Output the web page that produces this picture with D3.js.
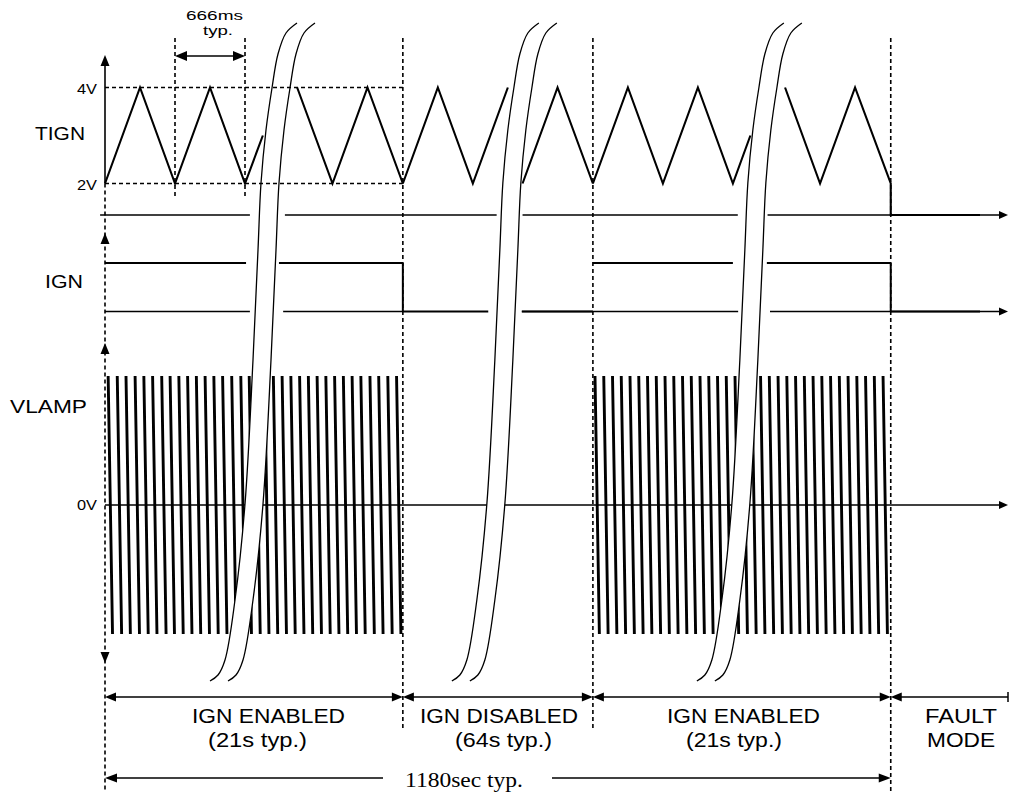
<!DOCTYPE html>
<html><head><meta charset="utf-8">
<script src="https://cdn.jsdelivr.net/npm/d3@7"></script>
<style>html,body{margin:0;padding:0;background:#fff;} svg{display:block;}</style>
</head><body><svg id="c" width="1010" height="792"></svg>
<script>
// ---- DATA (time unit = half period of TIGN ramp, 333 ms) ----
const sectionBounds = [0, 8.51, 13.94, 22.45];
const sectionEnd = 25.8;
const sectionLabels = ["IGN ENABLED", "IGN DISABLED", "IGN ENABLED", "FAULT"];
const sectionSubLabels = ["(21s typ.)", "(64s typ.)", "(21s typ.)", "MODE"];
const tignLevels = [4, 2];
const tignLevelLabels = ["4V", "2V"];
const tignFloor = 1.344;
const periodMarks = [2, 4];          // the 666 ms typ. period markers
const periodLabel = ["666ms", "typ."];
const totalLabel = "1180sec typ.";
const tignSegments = [
  [[0,2],[1,4],[2,2],[3,4],[4,2],[4.51,3]],
  [[5.49,4],[6.5,2],[7.5,4],[8.51,2]],
  [[8.51,2],[9.51,4],[10.51,2],[11.51,4]],
  [[11.93,2],[12.93,4],[13.94,2]],
  [[13.94,2],[14.94,4],[15.94,2],[16.94,4],[17.94,2],[18.44,3]],
  [[19.43,4],[20.43,2],[21.43,4],[22.45,2],[22.45,tignFloor],[25,tignFloor]]
];
const tignBaseline = [[-0.14,4.14],[5.14,11.19],[11.93,18.08],[18.93,25.8]];
const ignHigh = [[0,4.03],[4.97,8.51],[13.94,17.94],[18.91,22.45]];
const ignEdges = [8.51, 22.45];
const ignLowSignal = [[8.51,10.95],[11.91,13.94],[22.45,25]];
const ignBaseline = [[0,4.14],[5.09,8.51],[11.91,18.09],[19.0,25.8]];
const vlampBursts = [
  [0.09,0.35,0.60,0.86,1.11,1.36,1.62,1.86,2.11,2.36,2.61,2.86,3.11,3.36,3.62,3.88,4.12,4.37],
  [4.06,4.31,4.56,4.81,5.06,5.31,5.56,5.81,6.06,6.31,6.56,6.81,7.06,7.31,7.57,7.82,8.08,8.33],
  [14.00,14.25,14.50,14.75,15.00,15.25,15.50,15.75,16.00,16.25,16.50,16.75,17.00,17.25,17.50,17.75,18.00,18.25,18.50],
  [17.98,18.23,18.48,18.73,18.98,19.23,19.48,19.73,19.98,20.23,20.48,20.73,20.98,21.23,21.48,21.73,21.98,22.23]
];
const burstBreaks = [[null,0],[0,null],[null,2],[2,null]];
const breakPositions = [3.0, 9.91, 16.91];
const channelNames = ["TIGN", "IGN", "VLAMP"];
const vlampZeroLabel = "0V";

// ---- SCALES ----
const W = 1010, H = 792;
const svg = d3.select("#c");
const x = d3.scaleLinear().domain([0, 25]).range([105, 980]);
const yT = d3.scaleLinear().domain([2, 4]).range([183.5, 87.5]);
const yI = d3.scaleLinear().domain([0, 1]).range([311.5, 263]);
const yV = d3.scaleLinear().domain([-1, 1]).range([634, 376]);
const PULSE_SLANT = 0.125;
const SANS = "'Liberation Sans', Arial, Helvetica, sans-serif";
const SERIF = "'Liberation Serif', 'Times New Roman', serif";

const g = svg.append("g");
function line(x1,y1,x2,y2,w,dash){
  const l = g.append("line").attr("x1",x1).attr("y1",y1).attr("x2",x2).attr("y2",y2)
    .attr("stroke","#000").attr("stroke-width",w);
  if (dash) l.attr("stroke-dasharray",dash);
  return l;
}
function arrow(tx,ty,dir,len,hw){
  let p;
  if (dir==="up") p=[[tx,ty],[tx-hw,ty+len],[tx+hw,ty+len]];
  else if (dir==="down") p=[[tx,ty],[tx-hw,ty-len],[tx+hw,ty-len]];
  else if (dir==="left") p=[[tx,ty],[tx+len,ty-hw],[tx+len,ty+hw]];
  else p=[[tx,ty],[tx-len,ty-hw],[tx-len,ty+hw]];
  g.append("path").attr("d","M"+p.join("L")+"Z").attr("fill","#000");
}
function text(x0,w,base,str,size,fam){
  g.append("text").attr("x",x0).attr("y",base).attr("font-size",size)
    .attr("font-family",fam||SANS).attr("textLength",w).attr("lengthAdjust","spacingAndGlyphs")
    .attr("fill","#000").text(str);
}
const curveGen = d3.line().curve(d3.curveCatmullRom.alpha(0.5));
// break-mark shape (decoration): offsets from bottom tip
const breakShape = [[0,681],[8,675],[15,660],[25,600],[35,504],[43,360],[48,250],[51,183],[56,130],[62,88],[68,54],[76,33],[87,23]];
const BREAK_GAP = 18;
function breakCurve(i, side){ // bottom -> top
  const bx = x(breakPositions[i]) + (side ? BREAK_GAP : 0);
  return breakShape.map(d=>[bx+d[0], d[1]]);
}

// ---- LEFT AXIS ----
const ax = x(0);
line(ax, 60, ax, yT(2), 1.6);
line(ax, yT(2), ax, H, 1.6, "4,3");
arrow(ax, 55, "up", 11, 4.5);
arrow(ax, 233, "up", 11, 4.5);
arrow(ax, 343, "up", 11, 4.5);
arrow(ax, 663, "down", 11, 4.5);

// ---- BASELINES ----
const xEnd = x(sectionEnd);
tignBaseline.forEach(s=>line(x(s[0]), yT(tignFloor), Math.min(x(s[1]),xEnd-6), yT(tignFloor), 1.3));
arrow(xEnd, yT(tignFloor), "right", 9, 4);
ignBaseline.forEach(s=>line(x(s[0]), yI(0), Math.min(x(s[1]),xEnd-6), yI(0), 1.3));
arrow(xEnd, yI(0), "right", 9, 4);
line(ax, yV(0), xEnd-6, yV(0), 1.5);
arrow(xEnd, yV(0), "right", 9, 4);

// ---- SIGNALS ----
const lineT = d3.line().x(d=>x(d[0])).y(d=>yT(d[1]));
tignSegments.forEach(seg=>g.append("path").attr("d",lineT(seg)).attr("fill","none")
  .attr("stroke","#000").attr("stroke-width",2.1).attr("stroke-linejoin","miter"));
ignHigh.forEach(s=>line(x(s[0]), yI(1), x(s[1]), yI(1), 2));
ignEdges.forEach(t=>line(x(t), yI(1), x(t), yI(0), 2));
ignLowSignal.forEach(s=>line(x(s[0]), yI(0), x(s[1]), yI(0), 2));

// VLAMP bursts clipped between break marks
const defs = svg.insert("defs", ":first-child");
vlampBursts.forEach((tops, bi)=>{
  const [lb, rb] = burstBreaks[bi];
  const leftPts = lb===null ? [[0,H],[0,0]] : breakCurve(lb,1);          // bottom->top
  const rightPts = rb===null ? [[W,H],[W,0]] : breakCurve(rb,0);         // bottom->top
  const d = curveGen(leftPts.slice().reverse()) + curveGen(rightPts).replace(/^M/,"L") + "Z";
  defs.append("clipPath").attr("id","clipb"+bi).append("path").attr("d", d);
  const pd = tops.map(t=>"M"+x(t)+","+yV(1)+"L"+x(t+PULSE_SLANT)+","+yV(-1)).join("");
  g.append("path").attr("clip-path","url(#clipb"+bi+")")
    .attr("d", pd)
    .attr("fill","none").attr("stroke","#000").attr("stroke-width",2.9);
});

// ---- BREAK MARKS ----
breakPositions.forEach((b,i)=>{
  const L = breakCurve(i,0), R = breakCurve(i,1);
  const m = curveGen(L) + curveGen(R.slice().reverse()).replace(/^M/,"L") + "Z";
  g.append("path").attr("d", m).attr("fill","#fff").attr("stroke","none");
  g.append("path").attr("d", curveGen(L)).attr("fill","none").attr("stroke","#000").attr("stroke-width",1.3);
  g.append("path").attr("d", curveGen(R)).attr("fill","none").attr("stroke","#000").attr("stroke-width",1.3);
});

// ---- DASHED GUIDES ----
tignLevels.forEach(v=>line(ax, yT(v), x(sectionBounds[1]), yT(v), 1.5, "4,3"));
periodMarks.forEach(t=>line(x(t), 38, x(t), 198, 1.6, "4,3"));
sectionBounds.slice(1).forEach((t,i)=>line(x(t), 38, x(t), i===2 ? H : 728, 1.6, "4,3"));

// ---- LABELS ----
text(35, 50, 140, channelNames[0], 19);
text(45, 38, 288, channelNames[1], 18);
text(10, 77, 413, channelNames[2], 19);
tignLevelLabels.forEach((s,i)=>text(77, 20, yT(tignLevels[i])+6.5, s, 14));
text(77, 20, yV(0)+5, vlampZeroLabel, 14);

// 666ms typ.
const pm0 = x(periodMarks[0]), pm1 = x(periodMarks[1]);
line(pm0+8, 56, pm1-8, 56, 1.6);
arrow(pm0, 56, "left", 12, 5);
arrow(pm1, 56, "right", 12, 5);
text(186, 57, 19.5, periodLabel[0], 13);
text(203, 30, 35, periodLabel[1], 13);

// section arrows
const yS = 697;
const sb = sectionBounds.concat([sectionEnd]);
for (let i=0;i<4;i++){
  const a = x(sb[i]), b = x(sb[i+1]);
  line(a+6, yS, i===3 ? b : b-6, yS, 1.5);
  arrow(a, yS, "left", 11, 4.5);
  if (i<3) arrow(b, yS, "right", 11, 4.5);
  else line(b, yS-5, b, yS+5, 1.5);
}
const labX = [[192,153],[420,158],[667,153],[925,72]];
const subX = [[208,99],[455,97],[686,96],[927,68]];
sectionLabels.forEach((s,i)=>text(labX[i][0], labX[i][1], 723, s, 20));
sectionSubLabels.forEach((s,i)=>text(subX[i][0], subX[i][1], 747, s, 20));

// total
const yTot = 778;
line(x(0)+6, yTot, 383, yTot, 1.5);
line(552, yTot, x(sectionBounds[3])-6, yTot, 1.5);
arrow(x(0), yTot, "left", 12, 4.5);
arrow(x(sectionBounds[3]), yTot, "right", 12, 4.5);
text(405, 118, 787, totalLabel, 21, SERIF);
</script></body></html>
